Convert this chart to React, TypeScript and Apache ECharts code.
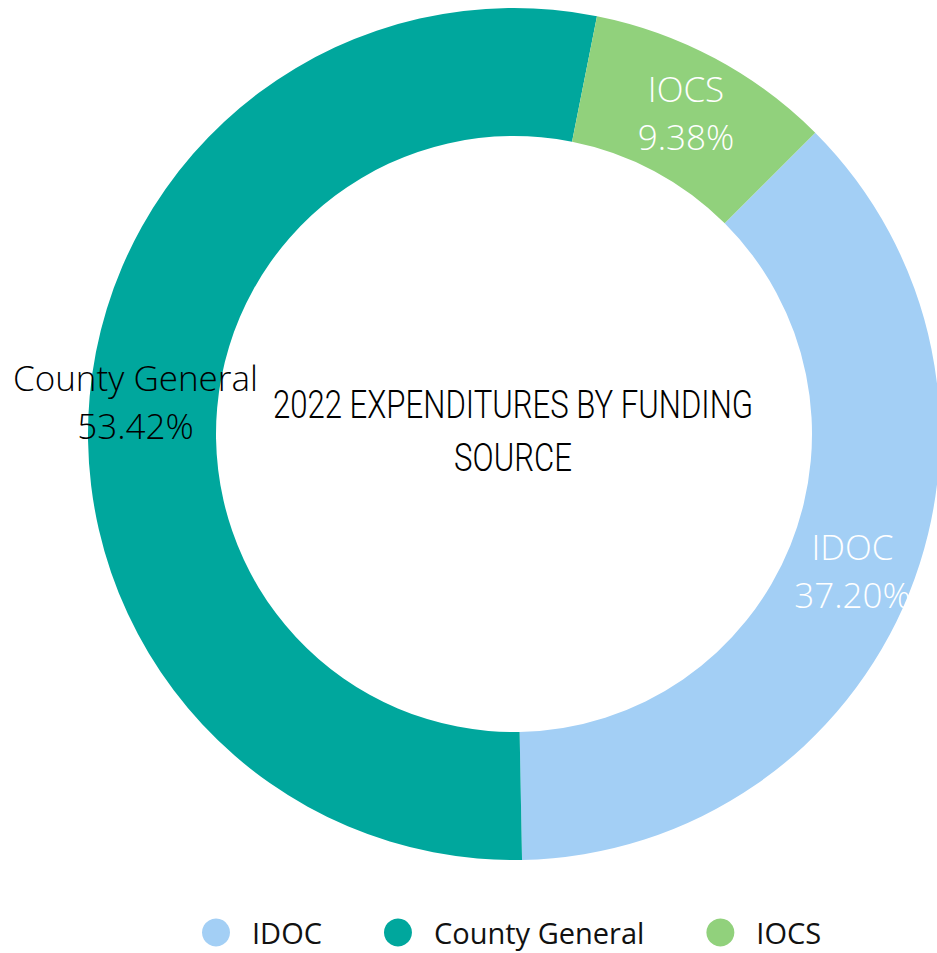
import React, { useEffect, useRef } from "react";
import * as echarts from "echarts";

const categories = ["IDOC", "County General", "IOCS"];
const percents = [37.2, 53.42, 9.38];
const colors = ["#A3CFF5", "#00A79D", "#91D17C"];
const labelColors = ["#FFFFFF", "#000000", "#FFFFFF"];
const titleLines = ["2022 EXPENDITURES BY FUNDING", "SOURCE"];

export default function App() {
  const ref = useRef<HTMLDivElement>(null);
  useEffect(() => {
    const chart = echarts.init(ref.current!, null, { renderer: "svg" });
    chart.setOption({
      animation: false,
      backgroundColor: "#FFFFFF",
      legend: {
        data: categories,
        left: 197,
        top: 913,
        icon: "circle",
        itemWidth: 28,
        itemHeight: 28,
        itemGap: 62,
        textStyle: {
          fontFamily: "Open Sans",
          fontSize: 29,
          color: "#111111",
          padding: [0, 0, 0, 17],
        },
      },
      graphic: [
        {
          type: "text",
          x: 513,
          y: 378,
          scaleX: 0.82,
          style: {
            text: titleLines.join("\n"),
            fontFamily: "Roboto",
            fontWeight: 300,
            fontSize: 38,
            lineHeight: 53,
            fill: "#000000",
            align: "center",
            verticalAlign: "top",
          },
        },
      ],
      series: [
        {
          type: "pie",
          center: [514, 434],
          radius: [298, 426],
          startAngle: 45,
          clockwise: true,
          label: {
            show: true,
            position: "inside",
            fontFamily: "Open Sans",
            fontWeight: 300,
            fontSize: 35,
            lineHeight: 48,
            formatter: (p: any) => `${p.name}\n${percents[p.dataIndex].toFixed(2)}%`,
          },
          labelLayout: (p: any) => (p.dataIndex === 1 ? { dx: -15 } : {}),
          labelLine: { show: false },
          emphasis: { disabled: true },
          data: categories.map((c, i) => ({
            name: c,
            value: percents[i],
            itemStyle: { color: colors[i] },
            label: { color: labelColors[i] },
          })),
        },
      ],
    });
    return () => chart.dispose();
  }, []);
  return (
    <div
      ref={ref}
      style={{ position: "fixed", left: 0, top: 0, width: 937, height: 953 }}
    />
  );
}
